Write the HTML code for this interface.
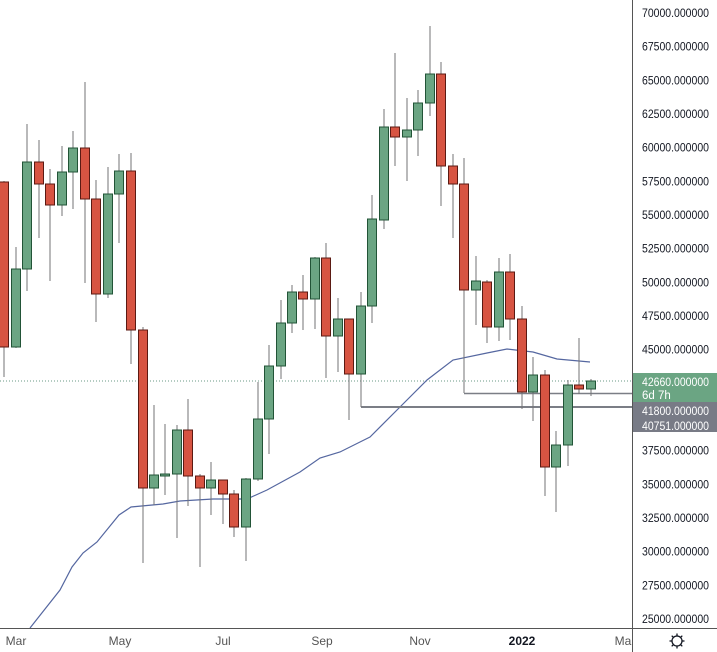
<!DOCTYPE html>
<html><head><meta charset="utf-8"><style>
body{margin:0;background:#fff;width:717px;height:652px;overflow:hidden}
svg{display:block;font-family:"Liberation Sans",sans-serif}
</style></head><body>
<svg id="s" width="717" height="652" xmlns="http://www.w3.org/2000/svg"></svg>
<script>
const C=[
[4,'r',182,347,181,377],[16,'g',269,347,247,348],[27,'g',162,269,124,291],[39,'r',162,184,140,238],
[50,'r',184,205,169,281],[62,'g',172,205,146,216],[73,'g',148,172,131,209],[85,'r',148,199,82,283],
[96,'r',199,294,180,322],[108,'g',194,294,167,298],[119,'g',171,194,154,243],[131,'r',171,330,153,364],
[143,'r',330,488,327,563],[154,'g',475,488,405,505],[165,'g',474,476,424,495],[177,'g',430,474,425,538],
[188,'r',430,476,399,506],[200,'r',476,488,474,567],[211,'g',480,488,462,515],[223,'r',480,494,480,524],
[234,'r',494,527,490,537],[246,'g',479,527,478,561],[258,'g',419,479,382,481],[269,'g',366,419,345,454],
[281,'g',323,366,300,379],[292,'g',292,323,285,333],[303,'r',292,299,275,330],[315,'g',258,299,257,329],
[326,'r',258,336,243,378],[338,'g',319,336,298,372],[349,'r',319,374,319,420],[361,'g',306,374,292,407],
[372,'g',219,306,195,323],[384,'g',127,220,109,229],[395,'r',127,137,53,166],[407,'g',130,137,98,181],
[418,'g',103,130,90,156],[430,'g',74,103,26,116],[441,'r',74,166,62,206],[453,'r',166,184,154,238],
[464,'r',184,290,158,393],[476,'g',281,290,256,325],[487,'r',282,327,280,343],[499,'g',272,327,258,341],
[510,'r',272,319,254,340],[522,'r',319,392,306,409],[533,'g',375,392,357,421],[545,'r',375,467,370,496],
[556,'g',445,467,431,512],[568,'g',385,445,380,466],[579,'r',385,389,338,394],[591,'g',381,389,379,396]];
let h='';
h+='<line x1="0" y1="381" x2="632" y2="381" stroke="#6a9a86" stroke-dasharray="1 2" stroke-width="1"/>';
h+='<polyline fill="none" stroke="#5567a0" stroke-width="1.2" points="30,628 60,590 72,567 83,553 97,542 119,515 131,507 163,504 180,501 213,499 247,499 267,490 300,472 320,458 340,452 360,442 370,437 400,407 427,380 453,360 487,353 507,349 533,352 557,359 590,362"/>';
h+='<line x1="361" y1="407" x2="632" y2="407" stroke="#7b7e86" stroke-width="2"/>';
h+='<line x1="464" y1="393.5" x2="632" y2="393.5" stroke="#7b7e86" stroke-width="1.5"/>';
for(const [x,c,t,b,hi,lo] of C){
 h+=`<line x1="${x}" y1="${hi}" x2="${x}" y2="${lo}" stroke="#737375" stroke-width="1"/>`;
 const f=c=='g'?'#6ba583':'#d75442',s=c=='g'?'#225437':'#5b1a13';
 h+=`<rect x="${x-4.5}" y="${t}" width="9" height="${Math.max(b-t,2)}" fill="${f}" stroke="${s}" stroke-width="1"/>`;
}
h+='<line x1="632.5" y1="0" x2="632.5" y2="652" stroke="#555" stroke-width="1"/>';
h+='<line x1="0" y1="628.5" x2="717" y2="628.5" stroke="#555" stroke-width="1"/>';
const T=(x,y,s,c)=>`<text x="${x}" y="${y}" font-size="11.5" fill="${c}" textLength="67" lengthAdjust="spacingAndGlyphs">${s}</text>`;
for(let i=0;i<19;i++){const p=70000-i*2500;if(p<25000)break;const y=13+i*33.67;
 if(y>370&&y<435)continue;
 h+=T(642,y+4,p+'.000000','#131722');}
h+='<rect x="633" y="373" width="84" height="29" fill="#6ba583"/>';
h+=T(642,386,'42660.000000','#fff')+'<text x="642" y="399" font-size="11.5" fill="#fff">6d 7h</text>';
h+='<rect x="633" y="402" width="84" height="30" fill="#787b86"/>';
h+=T(642,415,'41800.000000','#fff')+T(642,430,'40751.000000','#fff');
for(const [x,t,b] of [[16,'Mar',0],[120,'May',0],[223,'Jul',0],[322,'Sep',0],[420,'Nov',0],[522,'2022',1],[625,'Mar',0]])
 h+=`<text x="${x}" y="645" font-size="12" text-anchor="middle" fill="${b?'#131722':'#555'}" font-weight="${b?'bold':'normal'}">${t}</text>`;
h+='<rect x="633" y="629" width="84" height="23" fill="#fff"/>';
h+='<circle cx="677" cy="641" r="5" fill="none" stroke="#131722" stroke-width="1.3"/>';
for(let a=0;a<8;a++){const r=a*Math.PI/4;h+=`<line x1="${677+5*Math.cos(r)}" y1="${641+5*Math.sin(r)}" x2="${677+7.5*Math.cos(r)}" y2="${641+7.5*Math.sin(r)}" stroke="#131722" stroke-width="1.3"/>`;}
document.getElementById('s').innerHTML=h;
</script>
</body></html>
